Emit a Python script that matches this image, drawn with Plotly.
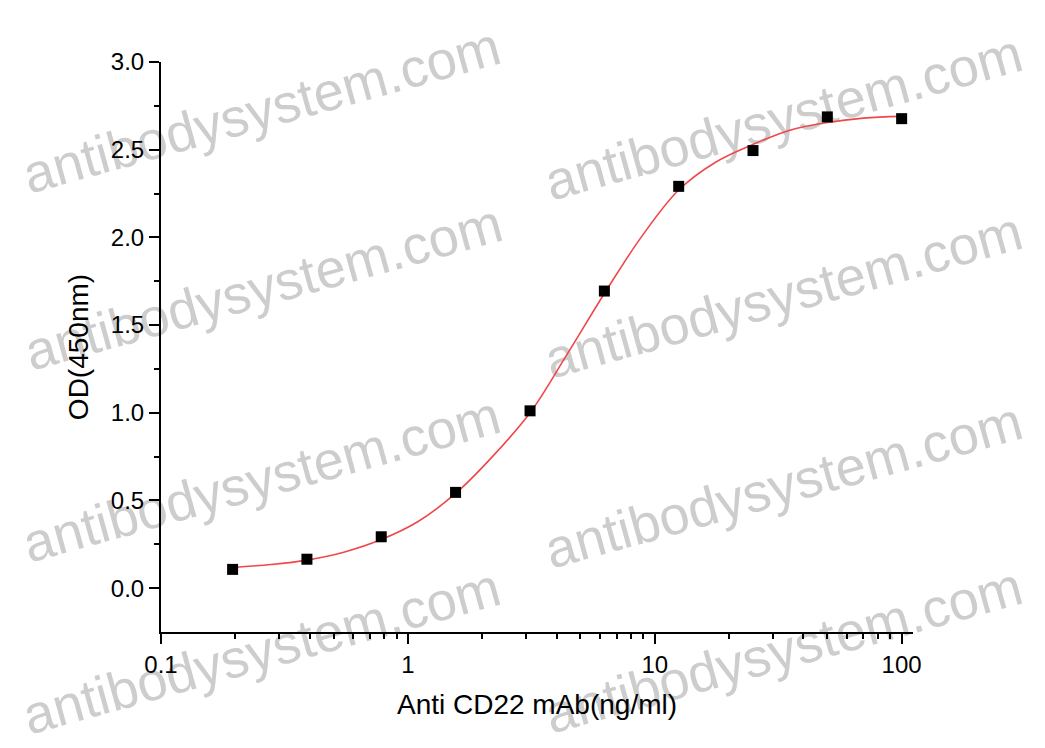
import plotly.graph_objects as go

# ---- data ----
conc = [0.195, 0.39, 0.78, 1.56, 3.125, 6.25, 12.5, 25, 50, 100]
od = [0.107, 0.165, 0.293, 0.546, 1.011, 1.694, 2.291, 2.495, 2.687, 2.677]

curve_x = [0.195, 0.28, 0.39, 0.55, 0.78, 1.1, 1.56, 2.2, 3.125, 4.4, 6.25,
           8.8, 12.5, 17.7, 25, 35, 50, 70, 100]
curve_y = [0.118, 0.135, 0.16, 0.205, 0.277, 0.38, 0.54, 0.75, 1.0, 1.33, 1.68,
           2.0, 2.27, 2.43, 2.53, 2.61, 2.655, 2.68, 2.69]

x_ticks = [0.1, 1, 10, 100]
x_ticktext = ["0.1", "1", "10", "100"]
y_ticks = [0.0, 0.5, 1.0, 1.5, 2.0, 2.5, 3.0]
y_ticktext = ["0.0", "0.5", "1.0", "1.5", "2.0", "2.5", "3.0"]

watermark_text = "antibodysystem.com"

OFF = 8  # page body margin
W, H = 1045 - OFF, 748 - OFF
L, T = 161 - OFF, 62 - OFF
PW, PH = 752, 570
R = W - L - PW
B = H - T - PH
FONT = "Liberation Sans, Arial, sans-serif"

fig = go.Figure()
fig.add_trace(go.Scatter(
    x=curve_x, y=curve_y, mode="lines", line=dict(color="#f0474a", width=1.6, shape="spline"),
    hoverinfo="skip", showlegend=False))
fig.add_trace(go.Scatter(
    x=conc, y=od, mode="markers",
    marker=dict(symbol="square", size=11, color="black", line=dict(width=0)),
    showlegend=False))

minor_x = [m * d for d in (0.1, 1, 10) for m in range(2, 10)]
minor_y = [0.25, 0.75, 1.25, 1.75, 2.25, 2.75]

fig.update_xaxes(
    type="log", range=[-1, 2.046], showgrid=False, zeroline=False,
    showline=True, linecolor="black", linewidth=2,
    ticks="outside", ticklen=10, tickwidth=2, tickcolor="black",
    tickvals=x_ticks, ticktext=x_ticktext,
    tickfont=dict(family=FONT, size=24, color="black"),
    minor=dict(tickvals=minor_x, ticks="outside", ticklen=5, tickwidth=2, tickcolor="black", showgrid=False),
    title=dict(text="Anti CD22 mAb(ng/ml)", font=dict(family=FONT, size=28, color="black"), standoff=18),
)
fig.update_yaxes(
    range=[-0.25, 3.0], showgrid=False, zeroline=False,
    showline=True, linecolor="black", linewidth=2,
    ticks="outside", ticklen=10, tickwidth=2, tickcolor="black",
    tickvals=y_ticks, ticktext=y_ticktext,
    tickfont=dict(family=FONT, size=24, color="black"),
    minor=dict(tickvals=minor_y, ticks="outside", ticklen=5, tickwidth=2, tickcolor="black", showgrid=False),
    title=dict(text="OD(450nm)", font=dict(family=FONT, size=28, color="black"), standoff=14),
)

# watermark placement (pixel centres in the window)
wm_centres = [(260, 105), (782, 112), (262, 282), (782, 290),
              (260, 474), (782, 480), (260, 646), (782, 645)]
shapes = []
for cx, cy in wm_centres:
    px = (cx - OFF - L) / PW
    py = (T + PH - (cy - OFF)) / PH
    shapes.append(dict(
        type="rect", xref="paper", yref="paper",
        x0=px - 0.01, x1=px + 0.01, y0=py - 0.01, y1=py + 0.01,
        line=dict(width=0), fillcolor="rgba(0,0,0,0)", layer="below",
        label=dict(text=watermark_text, textangle=-15.5, textposition="middle center",
                   font=dict(family=FONT, size=54, color="#cdcdcd")),
    ))

fig.update_layout(
    width=W, height=H,
    margin=dict(l=L, r=R, t=T, b=B),
    paper_bgcolor="white", plot_bgcolor="rgba(0,0,0,0)",
    shapes=shapes,
)

fig.write_html("out.html")
